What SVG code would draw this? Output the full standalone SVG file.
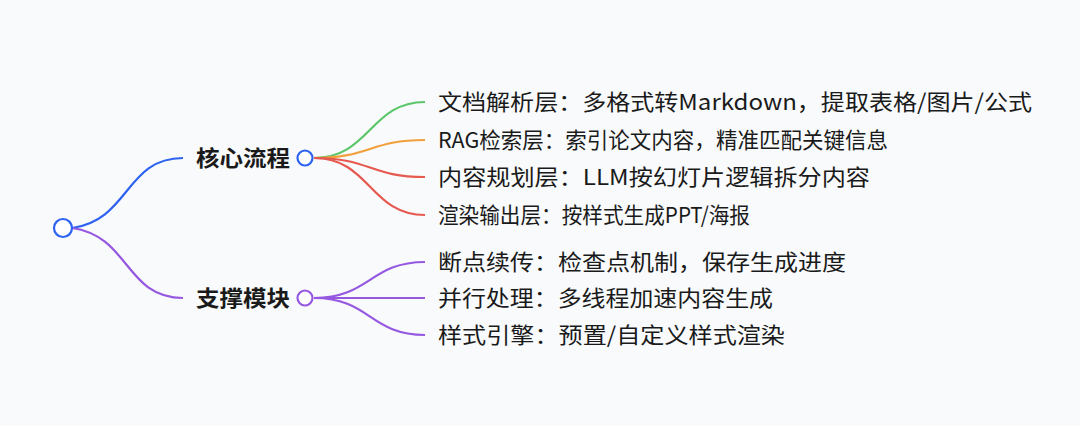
<svg xmlns="http://www.w3.org/2000/svg" width="1080" height="426" viewBox="0 0 1080 426">
<style>
.c{fill:none;stroke-width:2.2}
.h{font-family:"Noto Sans CJK SC",sans-serif;font-size:22px;font-weight:bold;fill:#1a1a1a}
.t{font-family:"Noto Sans CJK SC",sans-serif;font-size:22px;fill:#1a1a1a}
.n{fill:#fff;stroke-width:2.2}
</style>
<rect width="1080" height="426" fill="#f9fafc"/>
<g id="connectors">
<path class="c" stroke="#2e62f0" d="M72,228 C130,220 125,158 183,158"/>
<path class="c" stroke="#9558e0" d="M72,228 C130,236 125,298 183,298"/>
<path class="c" stroke="#5cc66a" d="M314,158 C370,158 370,102 425,102"/>
<path class="c" stroke="#f2a03c" d="M314,158 C370,158 370,140 425,140"/>
<path class="c" stroke="#e5594f" d="M314,158 C370,158 370,177 425,177"/>
<path class="c" stroke="#e5594f" d="M314,158 C370,158 370,215 425,215"/>
<path class="c" stroke="#9558e0" d="M314,298 C370,298 370,262 425,262"/>
<path class="c" stroke="#9558e0" d="M314,298 L425,298"/>
<path class="c" stroke="#9558e0" d="M314,298 C370,298 370,335 425,335"/>
</g>
<g id="root"><circle class="n" stroke="#2e62f0" cx="63" cy="228" r="9"/></g>
<g id="core"><text class="h" x="196" y="166" textLength="94" lengthAdjust="spacingAndGlyphs">核心流程</text><circle class="n" stroke="#2e62f0" cx="305" cy="158" r="7.5"/></g>
<g id="support"><text class="h" x="196" y="306" textLength="94" lengthAdjust="spacingAndGlyphs">支撑模块</text><circle class="n" stroke="#9558e0" cx="305" cy="298" r="7.5"/></g>
<g id="l1"><text class="t" x="438" y="110" textLength="594" lengthAdjust="spacingAndGlyphs">文档解析层：多格式转Markdown，提取表格/图片/公式</text></g>
<g id="l2"><text class="t" x="438" y="148" textLength="450" lengthAdjust="spacingAndGlyphs">RAG检索层：索引论文内容，精准匹配关键信息</text></g>
<g id="l3"><text class="t" x="438" y="185" textLength="432" lengthAdjust="spacingAndGlyphs">内容规划层：LLM按幻灯片逻辑拆分内容</text></g>
<g id="l4"><text class="t" x="438" y="223" textLength="312" lengthAdjust="spacingAndGlyphs">渲染输出层：按样式生成PPT/海报</text></g>
<g id="l5"><text class="t" x="438" y="270" textLength="408" lengthAdjust="spacingAndGlyphs">断点续传：检查点机制，保存生成进度</text></g>
<g id="l6"><text class="t" x="438" y="306" textLength="335" lengthAdjust="spacingAndGlyphs">并行处理：多线程加速内容生成</text></g>
<g id="l7"><text class="t" x="438" y="343" textLength="347" lengthAdjust="spacingAndGlyphs">样式引擎：预置/自定义样式渲染</text></g>
</svg>
